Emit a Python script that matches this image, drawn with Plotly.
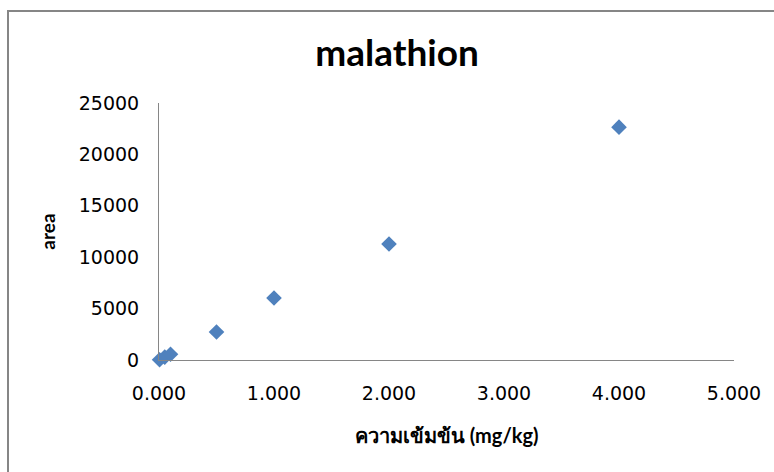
import plotly.graph_objects as go

# Calibration data for malathion
concentration = [0.005, 0.05, 0.1, 0.5, 1.0, 2.0, 4.0]   # mg/kg
area = [30, 280, 560, 2720, 6030, 11280, 22650]

x_ticks = [0, 1, 2, 3, 4, 5]
x_tick_labels = ["0.000", "1.000", "2.000", "3.000", "4.000", "5.000"]
y_ticks = [0, 5000, 10000, 15000, 20000, 25000]
y_tick_labels = ["0", "5000", "10000", "15000", "20000", "25000"]

W, H = 774, 472
L, R, T, B = 159, 40, 103, 112

fig = go.Figure(
    go.Scatter(
        x=concentration,
        y=area,
        mode="markers",
        marker=dict(symbol="diamond", size=12, color="#4F81BD",
                    line=dict(width=0)),
        cliponaxis=False,
        showlegend=False,
    )
)

axis_font = dict(family="DejaVu Sans", size=19, color="#000000")

fig.update_layout(
    width=W,
    height=H,
    margin=dict(l=L, r=R, t=T, b=B, autoexpand=False),
    paper_bgcolor="white",
    plot_bgcolor="white",
    title=dict(
        text="<b>malathion</b>",
        font=dict(family="Lato", size=37, color="#000000"),
        x=397 / W,
        xanchor="center",
        y=1 - 53 / H,
        yanchor="middle",
    ),
    xaxis=dict(
        range=[0, 5],
        tickvals=x_ticks,
        ticktext=x_tick_labels,
        tickfont=axis_font,
        showgrid=False,
        zeroline=False,
        showline=True,
        linecolor="#868686",
        linewidth=1,
        ticks="",
        ticklabelstandoff=16,
        title=dict(
            text="<b>ความเข้มข้น</b> <b>(mg/kg)</b>",
            font=dict(family="Lato", size=20, color="#000000"),
            standoff=26,
        ),
    ),
    yaxis=dict(
        range=[0, 25000],
        tickvals=y_ticks,
        ticktext=y_tick_labels,
        tickfont=axis_font,
        showgrid=False,
        zeroline=False,
        showline=True,
        linecolor="#868686",
        linewidth=1,
        ticks="",
        ticklabelstandoff=15,
        title=dict(
            text="<b>area</b>",
            font=dict(family="Lato", size=19, color="#000000"),
            standoff=18,
        ),
    ),
    shapes=[
        dict(
            type="rect",
            xref="paper", yref="paper",
            x0=-(L - 8) / (W - L - R),
            x1=1 + (R + 10) / (W - L - R),
            y0=-(B + 10) / (H - T - B),
            y1=1 + (T - 11) / (H - T - B),
            line=dict(color="#868686", width=2),
            fillcolor="rgba(0,0,0,0)",
            layer="below",
        )
    ],
)

fig.write_html("out.html")
